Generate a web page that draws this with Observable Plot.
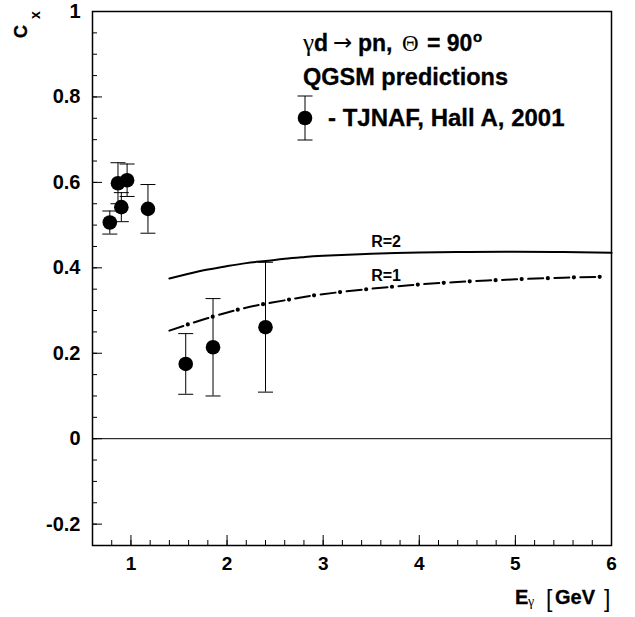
<!DOCTYPE html>
<html><head><meta charset="utf-8">
<script src="https://cdn.jsdelivr.net/npm/d3@7"></script>
<script src="https://cdn.jsdelivr.net/npm/@observablehq/plot@0.6"></script>
<style>body{margin:0;background:#fff} svg{display:block}</style>
</head><body><div id="chart"></div>
<script>
// Measured data: TJNAF Hall A 2001, Cx at 90 deg
const energy = [0.78, 0.865, 0.90, 0.96, 1.177, 1.57, 1.854, 2.40];
const cx     = [0.506, 0.598, 0.542, 0.605, 0.538, 0.175, 0.214, 0.261];
const cxErr  = [0.027, 0.048, 0.034, 0.038, 0.057, 0.071, 0.114, 0.152];

// QGSM predictions
const r2Energy = [1.4, 1.6, 1.8, 2.0, 2.2, 2.4, 2.6, 2.8, 3.0, 3.5, 4.0, 4.5, 5.0, 5.5, 6.0];
const r2Cx     = [0.375, 0.386, 0.396, 0.404, 0.411, 0.416, 0.421, 0.425, 0.428, 0.433, 0.436, 0.437, 0.4375, 0.437, 0.435];
const r1Energy = [1.4, 1.6, 1.87, 2.13, 2.4, 2.68, 2.95, 3.5, 4.0, 4.5, 5.0, 5.5, 5.93];
const r1Cx     = [0.253, 0.268, 0.287, 0.303, 0.316, 0.327, 0.337, 0.351, 0.361, 0.368, 0.373, 0.377, 0.379];

const curveLabels = ["R=2", "R=1"];
const labelEnergy = 3.5;

// Ticks
const xMajor = [1, 2, 3, 4, 5, 6];
const xMinor = d3.range(0.8, 6.0, 0.2);
const yMajor = [-0.2, 0, 0.2, 0.4, 0.6, 0.8, 1];
const yMinor = d3.range(-0.25, 1.0, 0.05);

const points = energy.map((e, i) => ({e, c: cx[i], lo: cx[i] - cxErr[i], hi: cx[i] + cxErr[i]}));
const r2 = r2Energy.map((e, i) => ({e, c: r2Cx[i]}));
const r1 = r1Energy.map((e, i) => ({e, c: r1Cx[i]}));
const r2Lab = r2.filter(d => d.e === labelEnergy);
const r1Lab = r1.filter(d => d.e === labelEnergy);

const FONT = "'Liberation Sans', Arial, Helvetica, sans-serif";
const SYMBOL = "'Liberation Serif', 'DejaVu Serif', serif";
const ARROW = "'DejaVu Sans', sans-serif";
const capSymbol = {draw(ctx) { ctx.moveTo(-7.5, 0); ctx.lineTo(7.5, 0); }};

function annotations(index, scales, values, dim) {
  const g = d3.create("svg:g").attr("font-family", FONT).attr("fill", "black")
    .attr("font-weight", "bold").attr("text-anchor", "start");
  const L = dim.marginLeft, T = dim.marginTop;
  const R = dim.width - dim.marginRight, B = dim.height - dim.marginBottom;
  const put = (x, y, s, size, weight = "bold", family = FONT) =>
    g.append("text").attr("x", x).attr("y", y).attr("font-size", size)
      .attr("font-weight", weight).attr("font-family", family)
      .attr("stroke", weight === "bold" ? "black" : "none").attr("stroke-width", 0.3).text(s);
  // title line 1: gamma d -> pn, Theta = 90 deg
  const ty = T + 40;
  put(L + 211, ty, "γ", 25, "normal", SYMBOL);
  put(L + 222, ty, "d", 23);
  put(L + 241, ty - 1, "→", 23, "normal", ARROW);
  put(L + 266, ty, "pn,", 23);
  put(L + 310, ty, "Θ", 23, "normal", SYMBOL);
  put(L + 335, ty, "= 90", 23);
  put(L + 381, ty - 9, "o", 15);
  // title line 2
  put(L + 211, T + 74, "QGSM predictions", 23.5);
  // legend
  const lx = L + 213, ly = T + 107;
  g.append("line").attr("x1", lx).attr("x2", lx).attr("y1", ly - 22).attr("y2", ly + 22).attr("stroke", "black");
  g.append("line").attr("x1", lx - 7.5).attr("x2", lx + 7.5).attr("y1", ly - 22).attr("y2", ly - 22).attr("stroke", "black");
  g.append("line").attr("x1", lx - 7.5).attr("x2", lx + 7.5).attr("y1", ly + 22).attr("y2", ly + 22).attr("stroke", "black");
  g.append("circle").attr("cx", lx).attr("cy", ly).attr("r", 7.3);
  put(L + 236, T + 115, "- TJNAF, Hall A, 2001", 24);
  // y title C_x (rotated)
  const yt = g.append("g").attr("transform", `translate(27,${T + 27}) rotate(-90)`);
  yt.append("text").attr("font-size", 18).attr("stroke", "black").attr("stroke-width", 0.3).text("C");
  yt.append("text").attr("x", 19).attr("y", 13).attr("font-size", 14).text("x");
  // x title E_gamma [GeV]
  const xb = B + 59;
  put(R - 96, xb, "E", 20);
  put(R - 83, xb + 2, "γ", 14, "normal", SYMBOL);
  put(R - 65, xb + 3, "[", 23, "normal");
  put(R - 56, xb, "GeV", 20);
  put(R - 7, xb + 3, "]", 23, "normal");
  return g.node();
}

const chart = Plot.plot({
  width: 635, height: 617,
  marginLeft: 92, marginRight: 24, marginTop: 11, marginBottom: 72,
  style: {fontFamily: FONT, background: "white", color: "black"},
  x: {domain: [0.6, 6], label: null},
  y: {domain: [-0.25, 1], label: null},
  marks: [
    Plot.ruleY([0], {stroke: "black", strokeWidth: 1}),
    Plot.axisX(xMinor, {tickSize: -5, tickFormat: () => "", label: null, strokeWidth: 1}),
    Plot.axisX(xMajor, {tickSize: -10, tickPadding: 21, fontSize: 19, fontWeight: "bold", tickFormat: d => String(d), label: null, strokeWidth: 1}),
    Plot.axisY(yMinor, {tickSize: -5, tickFormat: () => "", label: null, strokeWidth: 1}),
    Plot.axisY(yMajor, {tickSize: -10, tickPadding: 22, fontSize: 20, fontWeight: "bold", tickFormat: d => String(d), label: null, strokeWidth: 1}),
    Plot.line(r2, {x: "e", y: "c", curve: "natural", stroke: "black", strokeWidth: 2}),
    Plot.line(r1, {x: "e", y: "c", curve: "natural", stroke: "black", strokeWidth: 2, strokeDasharray: "15 11"}),
    Plot.line(r1, {x: "e", y: "c", curve: "natural", stroke: "black", strokeWidth: 4.2, strokeLinecap: "round", strokeDasharray: "0 26", strokeDashoffset: 6.5}),
    Plot.text(r2Lab, {x: "e", y: "c", text: () => curveLabels[0], textAnchor: "start", dy: -12, fontSize: 16, fontWeight: "bold", fill: "black"}),
    Plot.text(r1Lab, {x: "e", y: "c", text: () => curveLabels[1], textAnchor: "start", dy: -13, fontSize: 16, fontWeight: "bold", fill: "black"}),
    Plot.ruleX(points, {x: "e", y1: "lo", y2: "hi", stroke: "black", strokeWidth: 1}),
    Plot.dot(points, {x: "e", y: "lo", symbol: capSymbol, stroke: "black", fill: "none", strokeWidth: 1}),
    Plot.dot(points, {x: "e", y: "hi", symbol: capSymbol, stroke: "black", fill: "none", strokeWidth: 1}),
    Plot.dot(points, {x: "e", y: "c", r: 7.3, fill: "black", stroke: "none"}),
    Plot.frame({stroke: "black", strokeWidth: 1.5}),
    annotations
  ]
});
document.getElementById("chart").appendChild(chart);
</script>
</body></html>
